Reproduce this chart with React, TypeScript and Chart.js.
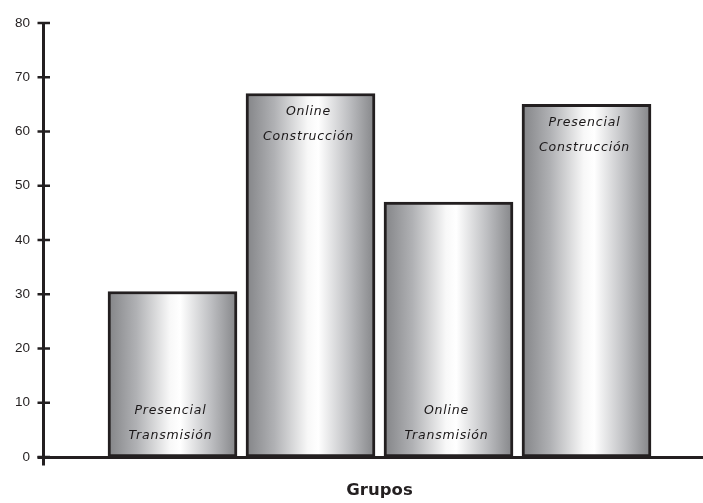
import React, { useEffect, useRef } from "react";
import { Chart, registerables } from "chart.js";

Chart.register(...registerables);

// ---- data ----
const groupLines: string[][] = [
  ["Presencial", "Transmisión"],
  ["Online", "Construcción"],
  ["Online", "Transmisión"],
  ["Presencial", "Construcción"],
];
const values: number[] = [30.5, 67, 47, 65];
const labelAtTop: boolean[] = [false, true, false, true];
const yTicks: number[] = [0, 10, 20, 30, 40, 50, 60, 70, 80];
const xTitle = "Grupos";

const INK = "#231f20";
const BAR_W = 129;

export default function App() {
  const ref = useRef<HTMLCanvasElement | null>(null);

  useEffect(() => {
    const canvas = ref.current;
    if (!canvas) return;

    const gradientFor = (ctx: CanvasRenderingContext2D, cx: number) => {
      const g = ctx.createLinearGradient(cx - BAR_W / 2, 0, cx + BAR_W / 2, 0);
      g.addColorStop(0, "#838487");
      g.addColorStop(0.22, "#b0b1b4");
      g.addColorStop(0.48, "#f8f8f8");
      g.addColorStop(0.56, "#ffffff");
      g.addColorStop(0.8, "#bdbec1");
      g.addColorStop(1, "#848588");
      return g;
    };

    const overlay = {
      id: "overlay",
      afterDatasetsDraw(chart: any) {
        const ctx = chart.ctx as CanvasRenderingContext2D;
        const xs = chart.scales.x;
        const ys = chart.scales.y;
        const area = chart.chartArea;
        const meta = chart.getDatasetMeta(0);

        // bar labels
        ctx.save();
        ctx.fillStyle = "#1a1718";
        ctx.font = "italic 12.5px 'DejaVu Sans'";
        (ctx as any).letterSpacing = "0.8px";
        ctx.textAlign = "center";
        ctx.textBaseline = "middle";
        meta.data.forEach((el: any, i: number) => {
          const lines = groupLines[i];
          const cx = el.x - 2;
          if (labelAtTop[i]) {
            lines.forEach((t, k) => ctx.fillText(t, cx, el.y + 18 + k * 25));
          } else {
            const base = el.base;
            lines.forEach((t, k) =>
              ctx.fillText(t, cx, base - 46 + k * 25)
            );
          }
        });
        ctx.restore();

        // axes
        ctx.save();
        ctx.strokeStyle = INK;
        ctx.lineCap = "butt";
        const ax = area.left - 0.5;
        const ay = ys.getPixelForValue(0) + 0.5;
        ctx.lineWidth = 3;
        ctx.beginPath();
        ctx.moveTo(ax, ys.getPixelForValue(80) - 1);
        ctx.lineTo(ax, ay + 8);
        ctx.stroke();
        ctx.beginPath();
        ctx.moveTo(ax - 6, ay);
        ctx.lineTo(chart.width, ay);
        ctx.stroke();
        ctx.lineWidth = 2.5;
        yTicks.forEach((v) => {
          const py = ys.getPixelForValue(v);
          ctx.beginPath();
          ctx.moveTo(ax - 6, py);
          ctx.lineTo(ax + 6.5, py);
          ctx.stroke();
        });
        ctx.restore();

        // x title
        ctx.save();
        ctx.fillStyle = INK;
        ctx.font = "bold 16.5px 'DejaVu Sans'";
        ctx.textAlign = "center";
        ctx.textBaseline = "alphabetic";
        ctx.fillText(xTitle, xs.getPixelForValue(2.5), 495);
        ctx.restore();
      },
    };

    const chart = new Chart(canvas, {
      type: "bar",
      data: {
        datasets: [
          {
            data: values.map((v, i) => ({ x: i + 1, y: v })),
            backgroundColor: (c: any) => {
              const xs = c.chart.scales?.x;
              if (!xs || c.type !== "data") return "#cccccc";
              const cx = xs.getPixelForValue(c.dataIndex + 1);
              if (!Number.isFinite(cx)) return "#cccccc";
              return gradientFor(c.chart.ctx, cx);
            },
            borderColor: INK,
            borderWidth: 3,
            borderSkipped: false,
            barThickness: BAR_W,
          } as any,
        ],
      },
      options: {
        animation: false,
        responsive: false,
        maintainAspectRatio: false,
        layout: { padding: { top: 23, right: 0, bottom: 46, left: 0 } },
        plugins: {
          legend: { display: false },
          tooltip: { enabled: false },
          title: { display: false },
        },
        scales: {
          x: {
            type: "linear",
            display: false,
            offset: false,
            min: 0.0688,
            max: 4.8442,
            grid: { display: false, offset: false },
          },
          y: {
            min: 0,
            max: 80,
            afterFit: (s: any) => {
              s.width = 44;
            },
            grid: { display: false, drawTicks: false },
            border: { display: false },
            ticks: {
              stepSize: 10,
              padding: 14,
              color: INK,
              font: { family: "'Liberation Sans'", size: 13.5 },
            },
          },
        },
      },
      plugins: [overlay],
    });

    return () => chart.destroy();
  }, []);

  return (
    <div style={{ position: "fixed", left: 0, top: 0, width: 703, height: 503, background: "#fff" }}>
      <canvas ref={ref} width={703} height={503} style={{ display: "block" }} />
    </div>
  );
}
